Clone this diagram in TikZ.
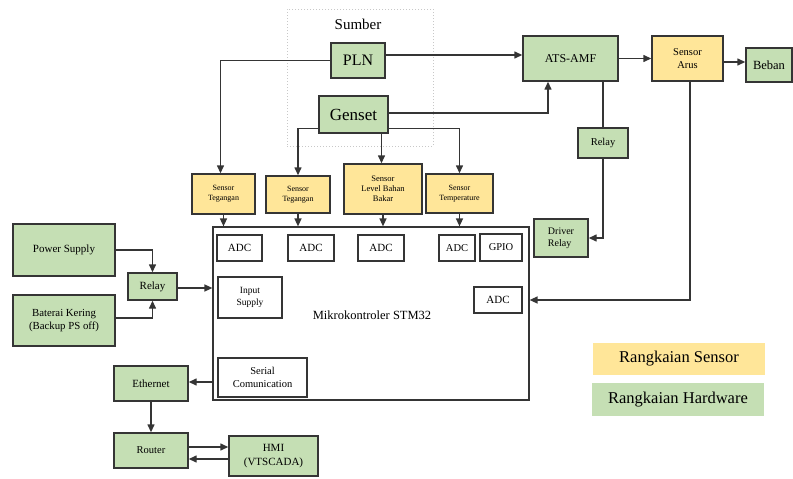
\documentclass[tikz,border=0pt]{standalone}
\usepackage{fontspec}
\setmainfont{Liberation Serif}
\usetikzlibrary{arrows.meta}
\definecolor{hwgreen}{HTML}{C5DFB4}
\definecolor{snyellow}{HTML}{FFE699}
\definecolor{edgegray}{HTML}{353535}
\definecolor{dotgray}{HTML}{C8C8C8}
\newcommand{\fsz}[1]{\fontsize{#1}{1.2\dimexpr #1pt\relax}\selectfont}
\tikzset{
  box/.style={draw=edgegray, line width=1.4pt, minimum width=#1, inner sep=1pt, align=center},
  hw/.style={box=#1, fill=hwgreen},
  sn/.style={box=#1, fill=snyellow},
  wb/.style={box=#1, fill=white, line width=1.2pt},
  arr/.style={draw=edgegray, line width=1.4pt, -{Triangle[length=8pt,width=7pt]}},
  ln/.style={draw=edgegray, line width=1.4pt},
}
\begin{document}
\begin{tikzpicture}[x=1pt,y=-1pt]
\useasboundingbox (0,0) rectangle (793,479);
% Sumber group
\node[draw=dotgray, dotted, line width=1pt, minimum width=146, minimum height=137] (grp) at (360,77.5) {};
\node[font=\fsz{15}] (sumber) at (358,24) {Sumber};
% nodes
\node[hw=54, minimum height=35, font=\fsz{16}] (PLN) at (358,60.5) {PLN};
\node[hw=69, minimum height=37, font=\fsz{17}] (Genset) at (353.5,114.5) {Genset};
\node[hw=95, minimum height=45, font=\fsz{12}] (ATS) at (570.5,58.5) {ATS-AMF};
\node[sn=71, minimum height=45, font=\fsz{10.5}] (SA) at (687.5,58.5) {Sensor\\Arus};
\node[hw=46, minimum height=34, font=\fsz{12.5}] (Beban) at (769,65) {Beban};
\node[hw=50, minimum height=30, font=\fsz{10.5}] (Relay2) at (603,143) {Relay};
\node[hw=54, minimum height=38, font=\fsz{10}, align=left] (DR) at (561,238) {Driver\\Relay};
\node[sn=63, minimum height=40, font=\fsz{8}] (ST1) at (223.5,194) {Sensor\\Tegangan};
\node[sn=64, minimum height=37, font=\fsz{8}] (ST2) at (298,194.5) {Sensor\\Tegangan};
\node[sn=78, minimum height=50, font=\fsz{8.5}] (SL) at (383,189) {Sensor\\Level Bahan\\Bakar};
\node[sn=67, minimum height=39, font=\fsz{8}] (STemp) at (459.5,193.5) {Sensor\\Temperature};
\node[box=316, minimum height=173, fill=white, line width=1.2pt] (MCU) at (371,313.5) {};
\node[font=\fsz{12.5}] (mcutext) at (372,315) {Mikrokontroler STM32};
\node[wb=45, minimum height=26, font=\fsz{11}] (ADC1) at (239.5,248) {ADC};
\node[wb=46, minimum height=26, font=\fsz{11}] (ADC2) at (311,248) {ADC};
\node[wb=46, minimum height=26, font=\fsz{11}] (ADC3) at (381,248) {ADC};
\node[wb=36, minimum height=26, font=\fsz{10.5}] (ADC4) at (457,248) {ADC};
\node[wb=42, minimum height=27, font=\fsz{10.5}] (GPIO) at (501,247.5) {GPIO};
\node[wb=48, minimum height=26, font=\fsz{11}] (ADC5) at (498,300) {ADC};
\node[wb=64, minimum height=41, font=\fsz{9.5}] (IS) at (250,297.5) {Input\\Supply};
\node[wb=89, minimum height=39, font=\fsz{10.5}] (SC) at (262.5,377.5) {Serial\\Comunication};
\node[hw=102, minimum height=52, font=\fsz{11}] (PS) at (64,250) {Power Supply};
\node[hw=102, minimum height=51, font=\fsz{10.8}] (BK) at (64,320.5) {Baterai Kering\\(Backup PS off)};
\node[hw=49, minimum height=27, font=\fsz{11}] (RL) at (152.5,286.5) {Relay};
\node[hw=74, minimum height=35, font=\fsz{11}] (ETH) at (151,383.5) {Ethernet};
\node[hw=74, minimum height=35, font=\fsz{10.5}] (RT) at (151,450.5) {Router};
\node[hw=89, minimum height=40, font=\fsz{11}] (HMI) at (273.5,456) {HMI\\(VTSCADA)};
\node[fill=snyellow, minimum width=172, minimum height=32, font=\fsz{16.5}] (LS) at (679,359) {Rangkaian Sensor};
\node[fill=hwgreen, minimum width=172, minimum height=33, font=\fsz{16.5}] (LH) at (678,399.5) {Rangkaian Hardware};
% connectors
\draw[arr] (PLN.west) -| ([xshift=-3pt]ST1.north);
\draw[arr] ([yshift=5.5pt]PLN.east) -- ([yshift=5.5pt]PLN.east -| ATS.west);
\draw[arr] ([yshift=1.5pt]Genset.east) -| ([xshift=-22.5pt]ATS.south);
\draw[arr] ([yshift=5pt]Genset.south west) -| (ST2.north);
\draw[arr] ([yshift=5pt]Genset.south east) -| (STemp.north);
\draw[arr] ([xshift=28pt]Genset.south) -- ([xshift=28pt]Genset.south |- SL.north);
\draw[arr] (ST1.south) -- (ST1.south |- MCU.north);
\draw[arr] (ST2.south) -- (ST2.south |- MCU.north);
\draw[arr] (SL.south) -- (SL.south |- MCU.north);
\draw[arr] (STemp.south) -- (STemp.south |- MCU.north);
\draw[arr] (ATS.east) -- (SA.west);
\draw[arr] ([yshift=-3.5pt]SA.east) -- ([yshift=-3.5pt]SA.east -| Beban.west);
\draw[ln] (ATS.south -| Relay2.north) -- (Relay2.north);
\draw[arr] (Relay2.south) |- (DR.east);
\draw[arr] ([xshift=2.5pt]SA.south) |- (MCU.east |- ADC5.east);
\draw[arr] (PS.east) -| (RL.north);
\draw[arr] ([yshift=2.5pt]BK.east) -| (RL.south);
\draw[arr] ([yshift=-1.5pt]RL.east) -- ([yshift=-1.5pt]RL.east -| MCU.west);
\draw[arr] ([yshift=1.5pt]ETH.east -| MCU.west) -- ([yshift=1.5pt]ETH.east);
\draw[arr] (ETH.south) -- (RT.north);
\draw[arr] ([yshift=3.5pt]RT.east) -- ([yshift=3.5pt]RT.east -| HMI.west);
\draw[arr] ([yshift=-8.5pt]RT.east -| HMI.west) -- ([yshift=-8.5pt]RT.east);
\end{tikzpicture}
\end{document}
